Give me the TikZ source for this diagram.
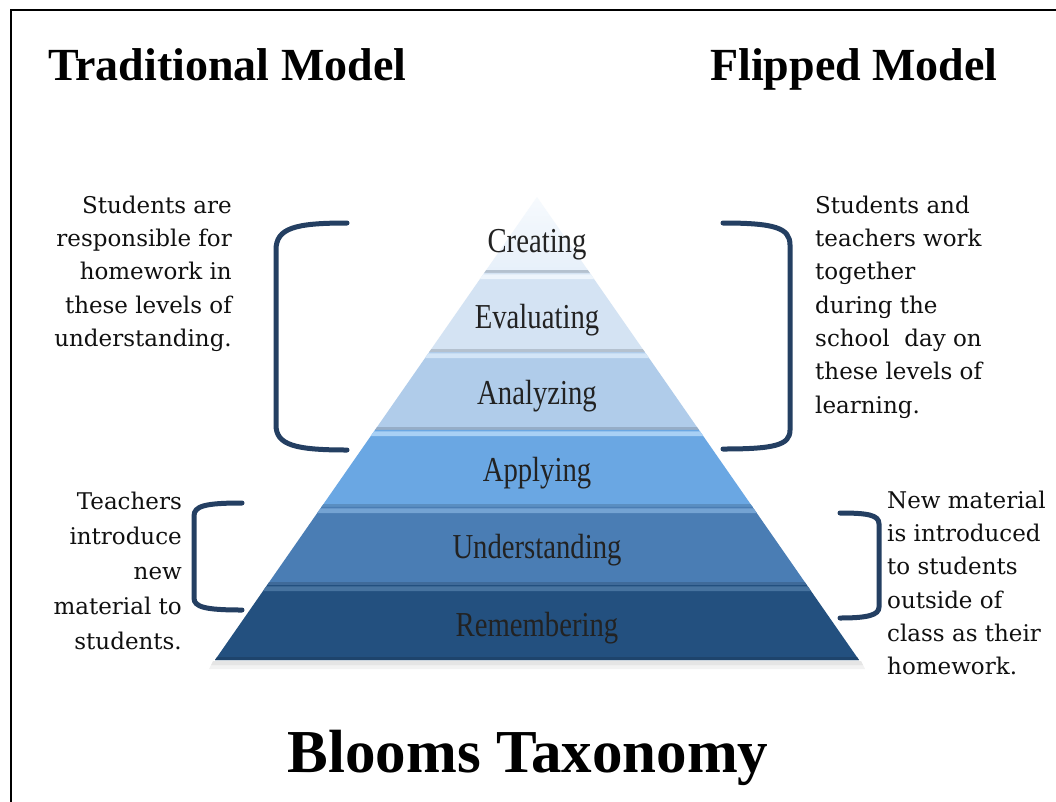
\documentclass[tikz,border=0pt]{standalone}
\usepackage{fontspec}
\setmainfont{Liberation Serif}
\newfontfamily\sidefont{DejaVu Serif}
\usetikzlibrary{calc}
\definecolor{brk}{HTML}{243F62}
\definecolor{txt}{HTML}{101010}
\definecolor{lbl}{HTML}{222222}
\definecolor{cEva}{HTML}{D4E3F3}
\definecolor{hEva}{HTML}{EEF5FC}
\definecolor{cAna}{HTML}{B0CCEA}
\definecolor{hAna}{HTML}{D3E5F7}
\definecolor{cApp}{HTML}{6AA7E3}
\definecolor{hApp}{HTML}{A8D0F5}
\definecolor{cUnd}{HTML}{4A7DB4}
\definecolor{hUnd}{HTML}{74A3D3}
\definecolor{cRem}{HTML}{23507F}
\definecolor{hRem}{HTML}{47739F}
\newcommand\pyrband[4]{%
  \fill[#3] ($(apex)!#1!(bl)$) -- ($(apex)!#1!(br)$) -- ($(apex)!#2!(br)$) -- ($(apex)!#2!(bl)$) -- cycle;
  \fill[#4] ($(apex)!#1+0.003!(bl)$) -- ($(apex)!#1+0.003!(br)$) -- ($(apex)!#1+0.013!(br)$) -- ($(apex)!#1+0.013!(bl)$) -- cycle;
  \fill[#3!85!black] ($(apex)!#2-0.006!(bl)$) -- ($(apex)!#2-0.006!(br)$) -- ($(apex)!#2!(br)$) -- ($(apex)!#2!(bl)$) -- cycle;
}
\begin{document}
\begin{tikzpicture}[x=1pt,y=-1pt,
  heading/.style={font=\fontsize{46}{50}\selectfont\bfseries, text=black, inner sep=0pt},
  sidetxt/.style={font=\sidefont\fontsize{23}{33.3}\selectfont, text=txt, inner sep=0pt},
  sidetxtb/.style={font=\sidefont\fontsize{23}{35}\selectfont, text=txt, inner sep=0pt},
  lvl/.style={font=\fontsize{35}{36}\selectfont, text=lbl, inner sep=0pt, anchor=base},
  bracket/.style={draw=brk, line width=5pt, line cap=round}]
\useasboundingbox (0,0) rectangle (1056,801);
\fill[white] (0,0) rectangle (1056,801);
\draw[line width=2.5pt] (11,802) -- (11,10) -- (1057,10);

% headings
\node[heading, anchor=base west] (trad) at (48,80) {Traditional Model};
\node[heading, anchor=base west] (flip) at (710,80) {Flipped Model};
\node[font=\fontsize{61}{64}\selectfont\bfseries, text=black, inner sep=0pt, anchor=base] (title) at (528,772) {Blooms Taxonomy};

% pyramid
\coordinate (apex) at (537,197);
\coordinate (bl) at (215,660);
\coordinate (br) at (859,660);
\fill[black, opacity=0.10] ($(bl)+(-2,1)$) -- ($(br)+(2,1)$) -- ($(br)+(4,5)$) -- ($(bl)+(-4,5)$) -- cycle;
\fill[black, opacity=0.05] ($(bl)+(-4,5)$) -- ($(br)+(4,5)$) -- ($(br)+(6,9)$) -- ($(bl)+(-6,9)$) -- cycle;
\shade[top color=hEva!50!white, bottom color=hEva!70!cEva] (apex) -- ($(apex)!0.1641!(br)$) -- ($(apex)!0.1641!(bl)$) -- cycle;
\fill[cEva!85!black] ($(apex)!0.1581!(bl)$) -- ($(apex)!0.1581!(br)$) -- ($(apex)!0.1641!(br)$) -- ($(apex)!0.1641!(bl)$) -- cycle;
\pyrband{0.1641}{0.3348}{cEva}{hEva}
\pyrband{0.3348}{0.5032}{cAna}{hAna}
\pyrband{0.5032}{0.6695}{cApp}{hApp}
\pyrband{0.6695}{0.8380}{cUnd}{hUnd}
\pyrband{0.8380}{1}{cRem}{hRem}

% level labels
\node[lvl] (cre) at (537,252) {\scalebox{0.82}[1]{Creating}};
\node[lvl] (eva) at (537,328) {\scalebox{0.82}[1]{Evaluating}};
\node[lvl] (ana) at (537,404) {\scalebox{0.82}[1]{Analyzing}};
\node[lvl] (app) at (537,481) {\scalebox{0.82}[1]{Applying}};
\node[lvl] (und) at (537,558) {\scalebox{0.82}[1]{Understanding}};
\node[lvl] (rem) at (537,636) {\scalebox{0.82}[1]{Remembering}};

% brackets
\draw[bracket] (347,223) .. controls (295,223) and (276,228) .. (276,250) -- (276,425) .. controls (276,445) and (295,450) .. (347,450);
\draw[bracket] (723,223) .. controls (775,223) and (790,228) .. (790,245) -- (790,430) .. controls (790,445) and (775,449) .. (723,449);
\draw[bracket] (242,503) .. controls (205,503) and (194,506) .. (194,516) -- (194,598) .. controls (194,607) and (205,610) .. (242,610);
\draw[bracket] (840,513) .. controls (868,513) and (879,515) .. (879,524) -- (879,607) .. controls (879,615) and (868,618) .. (840,618);

% side texts
\node[sidetxt, align=right, anchor=north east] (ltop) at (232,189.7) {\strut Students are\\responsible for\\homework in\\these levels of\\understanding.};
\node[sidetxt, align=left, anchor=north west] (rtop) at (815,189.7) {\strut Students and\\teachers work\\together\\during the\\school\ \ day on\\these levels of\\learning.};
\node[sidetxtb, align=right, anchor=north east] (lbot) at (182,484.5) {\strut Teachers\\introduce\\new\\material to\\students.};
\node[sidetxt, align=left, anchor=north west] (rbot) at (887,484.7) {\strut New material\\is introduced\\to students\\outside of\\class as their\\homework.};
\end{tikzpicture}
\end{document}
